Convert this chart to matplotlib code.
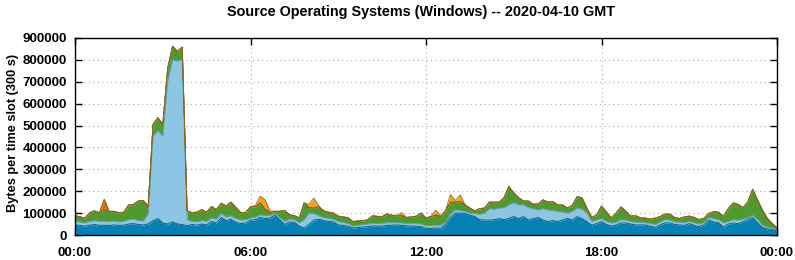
import numpy as np
import matplotlib
matplotlib.use('Agg')
import matplotlib.pyplot as plt

plt.rcParams['font.family'] = ['Liberation Sans', 'DejaVu Sans']

# 10-minute steps over the day, values in kB
hours = np.arange(145) / 6.0

# cumulative tops of the stacked layers
dark_top = [46,44,40,45,48,44, 45,43,46,44,45,50, 52,48,46,50,65,75,
            55,50,60,50,48,42, 48,45,50,46,62,55, 80,65,72,58,52,55,
            68,70,80,75,78,90, 70,48,60,58,40,32, 48,68,72,66,62,60,
            46,44,40,32,34,36, 38,42,40,41,44,45, 46,44,42,41,40,38,
            30,30,32,31,48,80, 100,100,98,91,84,70, 68,68,70,75,70,76,
            84,75,84,68,75,80, 68,61,66,61,68,76, 68,84,75,61,45,52,
            61,48,41,46,55,55, 50,46,46,46,40,35, 46,55,55,48,46,44,
            52,44,38,46,68,60, 56,36,50,55,52,60, 70,80,55,35,28,25,
            18]
light_top = [62,60,55,62,66,62, 63,60,64,60,62,70, 72,66,64,95,450,478,
             450,700,800,795,800,70, 62,60,66,62,78,72, 98,82,88,75,68,70,
             78,82,92,88,90,98, 80,62,72,70,55,70, 100,98,88,80,76,72,
             61,58,52,41,44,47, 50,54,52,53,56,56, 56,55,53,53,52,50,
             42,43,45,45,58,95, 114,112,107,100,98,95, 100,120,118,122,125,137,
             148,137,138,125,120,114, 120,114,112,107,105,100, 108,123,118,100,62,68,
             75,62,55,58,70,68, 62,58,58,56,52,48, 58,70,68,60,58,56,
             62,56,50,56,80,75, 70,55,62,70,68,72, 78,90,70,45,36,32,
             24]
green_top = [88,84,76,101,110,101, 114,107,108,101,104,137, 140,155,158,130,505,535,
             505,760,862,838,858,110, 102,104,116,104,130,116, 145,132,150,125,102,103,
             128,129,146,118,102,108, 108,112,92,88,78,146, 125,123,130,110,104,100,
             86,82,79,61,62,64, 69,87,85,84,95,90, 87,88,80,82,86,100,
             77,84,91,84,110,150, 150,153,137,123,110,120, 123,150,146,150,170,221,
             193,170,155,155,140,142, 160,150,153,137,137,123, 135,175,170,123,80,91,
             132,105,78,100,128,108, 86,88,78,77,72,77, 84,95,95,80,75,82,
             86,80,70,76,98,106, 104,86,120,146,140,125, 150,209,160,114,76,53,
             32]
# thickness of the two small orange layers
orange = [0,0,1,1,1,1, 0,2,1,1,1,1, 1,1,1,1,2,2, 2,2,2,2,2,1,
          1,1,1,1,1,1, 1,1,1,1,1,1, 2,6,32,42,8,1, 1,1,1,1,1,1,
          15,46,2,1,1,1, 1,1,1,1,4,2, 1,1,1,1,3,1, 3,14,1,1,1,1,
          1,2,23,2,2,35, 8,30,2,1,1,1, 1,1,6,1,1,1, 1,1,1,1,1,1,
          1,1,1,1,1,1, 1,1,1,1,1,1, 1,1,1,1,1,1, 1,1,1,1,1,1,
          1,1,1,1,1,1, 1,1,1,1,1,1, 1,1,1,1,1,1, 1,1,1,1,1,1,
          1]
red = [0]*145
red[6] = 49

dark = np.array(dark_top) * 1000.0
light = (np.array(light_top) - np.array(dark_top)) * 1000.0
green = (np.array(green_top) - np.array(light_top)) * 1000.0
orng = np.array(orange) * 1000.0
redv = np.array(red) * 1000.0

layers = [dark, light, green, redv, orng]
fills = ['#0581b4', '#8dc6e4', '#4f9a30', '#e8680e', '#f2a51e']
edges = ['#0a5f85', '#6a9fb8', '#3c7a22', '#b04a05', '#8a6a20']
widths = [0.7, 0.7, 0.6, 0.6, 0.6]

fig = plt.figure(figsize=(7.95, 2.6), dpi=100)
ax = fig.add_axes([75/795, 1-235/260, 702/795, 197/260])

base = np.zeros(len(hours))
for vals, fc, ec, lw in zip(layers, fills, edges, widths):
    top = base + vals
    ax.fill_between(hours, base, top, color=fc, lw=0, zorder=2)
    ax.plot(hours, top, color=ec, lw=lw, zorder=3)
    base = top

ax.set_xlim(0, 24)
ax.set_ylim(0, 900000)
ax.set_xticks([0, 6, 12, 18, 24])
ax.set_xticklabels(['00:00', '06:00', '12:00', '18:00', '00:00'])
ax.set_yticks(np.arange(0, 900001, 100000))
ax.set_yticklabels([str(v) for v in range(0, 900001, 100000)])
ax.tick_params(direction='in', length=5, width=1, top=True, right=True,
               labelsize=9.6)
ax.tick_params(axis='x', pad=8.5)
ax.tick_params(axis='y', pad=6)
for lab in ax.get_xticklabels() + ax.get_yticklabels():
    lab.set_fontweight('bold')
ax.grid(True, color='#a8a8a8', linestyle=(0, (1, 3)), lw=0.8, zorder=1)
for s in ax.spines.values():
    s.set_linewidth(1.0)
    s.set_zorder(5)

fig.text(0.53, 0.952, 'Source Operating Systems (Windows) -- 2020-04-10 GMT',
         ha='center', va='center', fontsize=10.4, fontweight='bold')
fig.text(0.016, 0.49, 'Bytes per time slot (300 s)', rotation=90,
         ha='center', va='center', fontsize=9.2, fontweight='bold')

fig.savefig('out.png', dpi=100)
